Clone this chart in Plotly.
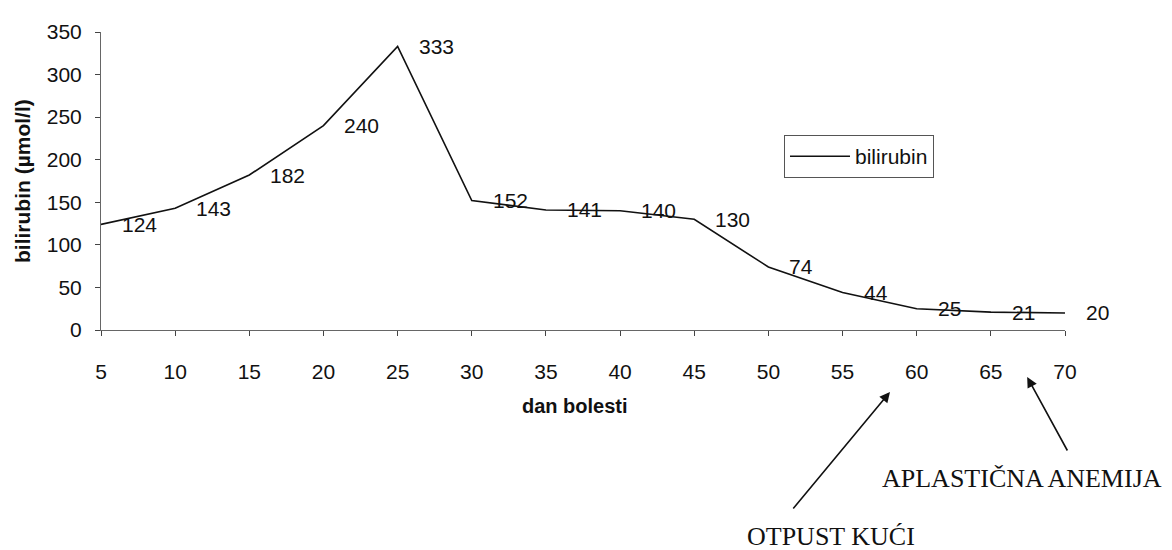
import plotly.graph_objects as go

days = [5, 10, 15, 20, 25, 30, 35, 40, 45, 50, 55, 60, 65, 70]
bilirubin = [124, 143, 182, 240, 333, 152, 141, 140, 130, 74, 44, 25, 21, 20]
x_ticks = [5, 10, 15, 20, 25, 30, 35, 40, 45, 50, 55, 60, 65, 70]
y_ticks = [0, 50, 100, 150, 200, 250, 300, 350]
series_name = "bilirubin"
x_title = "dan bolesti"
y_title = "bilirubin (µmol/l)"
note_discharge = "OTPUST KUĆI"
note_anemia = "APLASTIČNA ANEMIJA"
discharge_day = 58.2
anemia_day = 67.45

SANS = "Liberation Sans, Arial, sans-serif"
SERIF = "Liberation Serif, Times New Roman, serif"
INK = "#111111"

fig = go.Figure()
fig.add_trace(go.Scatter(
    x=days, y=bilirubin, mode="lines", name=series_name,
    line=dict(color=INK, width=1.6),
))

annotations = []
for d, v in zip(days, bilirubin):
    annotations.append(dict(
        x=d, y=v, xref="x", yref="y", text=str(v), showarrow=False,
        xanchor="left", yanchor="middle", xshift=19,
        font=dict(family=SANS, size=21, color=INK),
    ))

annotations += [
    dict(x=0.0, y=0.5, xref="paper", yref="paper", text="<b>" + y_title + "</b>",
         textangle=-90, showarrow=False, xanchor="center", yanchor="middle",
         xshift=-79, font=dict(family=SANS, size=21, color=INK)),
    dict(x=0.5, y=0, xref="paper", yref="paper", text="<b>" + x_title + "</b>",
         showarrow=False, xanchor="center", yanchor="middle", xshift=-8, yshift=-76,
         font=dict(family=SANS, size=20, color=INK)),
    # arrows
    dict(x=discharge_day, y=0, xref="x", yref="paper", yshift=-62, text="",
         showarrow=True, arrowhead=2, arrowsize=1.3, arrowwidth=1.6, arrowcolor=INK,
         ax=-98, ay=118),
    dict(x=anemia_day, y=0, xref="x", yref="paper", yshift=-47, text="",
         showarrow=True, arrowhead=2, arrowsize=1.3, arrowwidth=1.6, arrowcolor=INK,
         ax=41, ay=75),
    dict(x=1.0, y=0, xref="paper", yref="paper", text=note_anemia, showarrow=False,
         xanchor="center", yanchor="middle", xshift=-43, yshift=-148,
         font=dict(family=SERIF, size=26, color=INK)),
    dict(x=1.0, y=0, xref="paper", yref="paper", text=note_discharge, showarrow=False,
         xanchor="center", yanchor="middle", xshift=-234, yshift=-206,
         font=dict(family=SERIF, size=26, color=INK)),
]

fig.update_layout(
    width=1172, height=550,
    margin=dict(l=93, r=115, t=16, b=228),
    paper_bgcolor="white", plot_bgcolor="white",
    showlegend=True,
    legend=dict(
        x=0.7085, y=0.654, xanchor="left", yanchor="top",
        bordercolor="#555555", borderwidth=1, bgcolor="white",
        font=dict(family=SANS, size=21, color=INK),
        itemwidth=60,
    ),
    xaxis=dict(
        range=[5, 70], tickvals=x_ticks, ticktext=[str(t) for t in x_ticks],
        showgrid=False, zeroline=False, showline=True, linecolor="#666666", linewidth=1,
        ticks="outside", ticklen=5, tickcolor="#444444",
        tickfont=dict(family=SANS, size=21, color=INK),
        ticklabelstandoff=18,
    ),
    yaxis=dict(
        range=[0, 350], tickvals=y_ticks,
        showgrid=False, zeroline=False, showline=True, linecolor="#666666", linewidth=1,
        ticks="outside", ticklen=5, tickcolor="#444444",
        tickfont=dict(family=SANS, size=21, color=INK),
        ticklabelstandoff=9,
    ),
    annotations=annotations,
)

fig.write_html("out.html")
